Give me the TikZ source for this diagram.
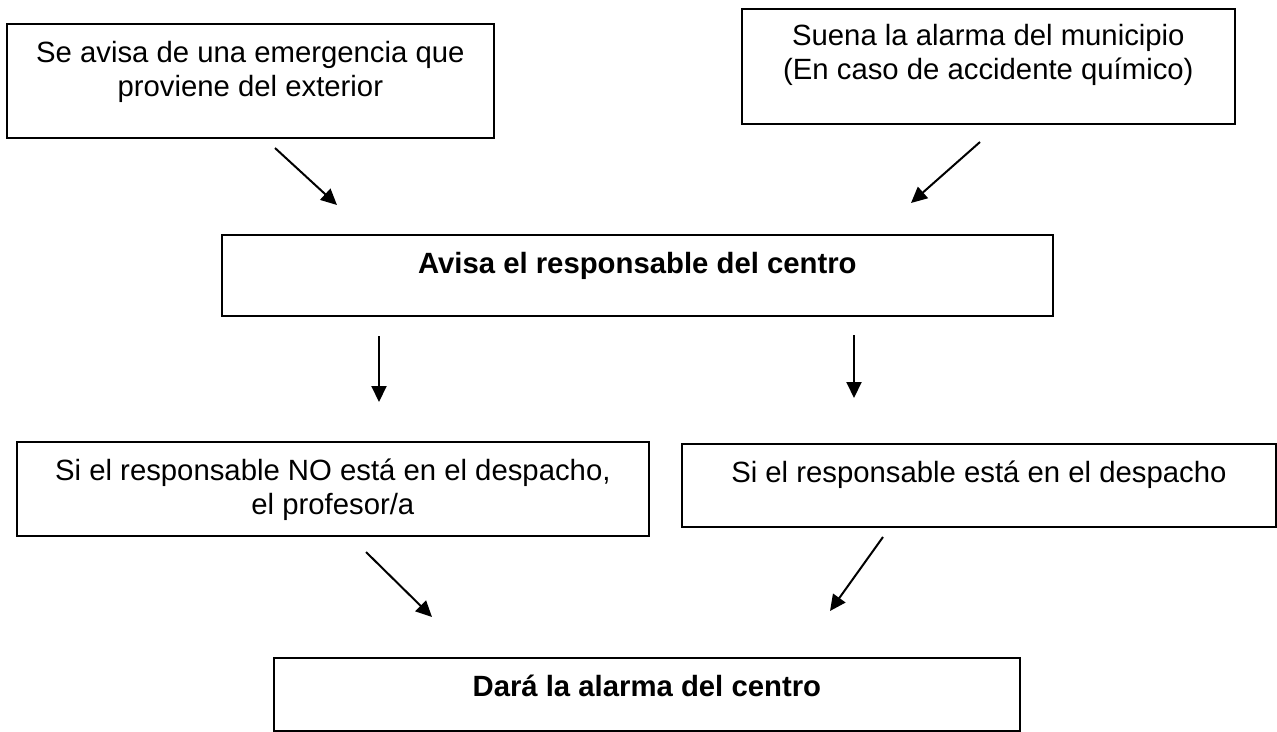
\documentclass[tikz,border=0pt]{standalone}
\usepackage{fontspec}
\setmainfont{Liberation Sans}
\usetikzlibrary{arrows.meta}

\tikzset{
  box/.style={draw, line width=1.7pt, inner sep=0pt, anchor=north west},
  boxtext/.style={anchor=base, inner sep=0pt, align=center, font=\fontsize{29.3}{34}\selectfont},
  arr/.style={line width=2pt, -{Triangle[length=16pt,width=15pt]}}
}

\begin{document}
\begin{tikzpicture}[x=1pt,y=1pt,yscale=-1]
\useasboundingbox (0,0) rectangle (1277,731);

%Shape: Rectangle
\node[box, minimum width=487, minimum height=114] (emerg) at (6,23) {};
%Shape: Rectangle
\node[box, minimum width=493, minimum height=115] (munic) at (741,8) {};
%Shape: Rectangle
\node[box, minimum width=831, minimum height=81] (avisa) at (221,234) {};
%Shape: Rectangle
\node[box, minimum width=632, minimum height=94] (noesta) at (16,441) {};
%Shape: Rectangle
\node[box, minimum width=594, minimum height=83] (esta) at (681,443) {};
%Shape: Rectangle
\node[box, minimum width=746, minimum height=73] (dara) at (273,657) {};

% Text Node (base = last line)
\node[boxtext] (emergtxt) at ([yshift=73pt]emerg.north) {Se avisa de una emergencia que\\proviene del exterior};
% Text Node
\node[boxtext] (munictxt) at ([yshift=71pt]munic.north) {Suena la alarma del municipio\\(En caso de accidente químico)};
% Text Node
\node[boxtext, font=\fontsize{29.3}{34}\selectfont\bfseries] (avisatxt) at ([yshift=39pt]avisa.north) {Avisa el responsable del centro};
% Text Node
\node[boxtext] (noestatxt) at ([yshift=73pt]noesta.north) {Si el responsable NO está en el despacho,\\el profesor/a};
% Text Node
\node[boxtext] (estatxt) at ([yshift=39pt]esta.north) {Si el responsable está en el despacho};
% Text Node
\node[boxtext, font=\fontsize{29.3}{34}\selectfont\bfseries] (daratxt) at ([yshift=39pt]dara.north) {Dará la alarma del centro};

%Straight Lines
\coordinate (emergout) at (275,148);
\coordinate (avisainl) at (337,205);
\coordinate (municout) at (980,142);
\coordinate (avisainr) at (911,203);
\coordinate (avisaoutl) at (379,336);
\coordinate (noestain) at (379,402);
\coordinate (avisaoutr) at (854,335);
\coordinate (estain) at (854,398);
\coordinate (noestaout) at (366,552);
\coordinate (darainl) at (432,617);
\coordinate (estaout) at (883,537);
\coordinate (darainr) at (830,611);

\draw[arr] (emergout) -- (avisainl);
\draw[arr] (municout) -- (avisainr);
\draw[arr] (avisaoutl) -- (noestain);
\draw[arr] (avisaoutr) -- (estain);
\draw[arr] (noestaout) -- (darainl);
\draw[arr] (estaout) -- (darainr);

\end{tikzpicture}
\end{document}
